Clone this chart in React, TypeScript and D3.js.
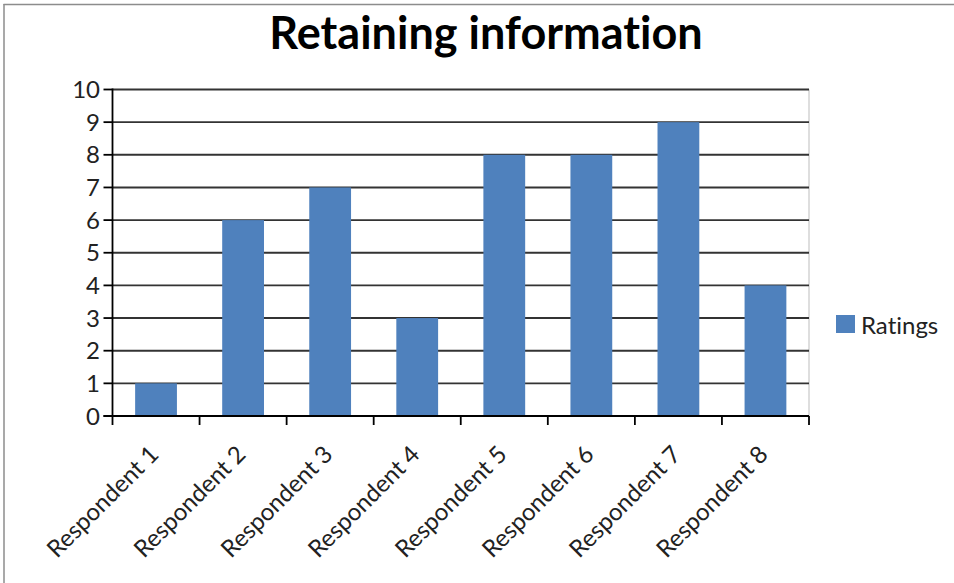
import React from "react";
import * as d3 from "d3";

const categories = [
  "Respondent 1",
  "Respondent 2",
  "Respondent 3",
  "Respondent 4",
  "Respondent 5",
  "Respondent 6",
  "Respondent 7",
  "Respondent 8",
];
const ratings = [1, 6, 7, 3, 8, 8, 9, 4];
const yTicks = [0, 1, 2, 3, 4, 5, 6, 7, 8, 9, 10];
const seriesName = "Ratings";
const title = "Retaining information";

const W = 954;
const H = 583;
const FONT = "Lato, 'Open Sans', sans-serif";

export default function App() {
  const left = 112.5;
  const right = 809;
  const top = 89.5;
  const bottom = 416;

  const x = d3
    .scaleBand<string>()
    .domain(categories)
    .range([left, right])
    .paddingInner(0.52)
    .paddingOuter(0.26);
  const y = d3.scaleLinear().domain([0, 10]).range([bottom, top]);
  const step = (right - left) / categories.length;

  return (
    <svg
      width={W}
      height={H}
      style={{ position: "absolute", left: 0, top: 0, background: "#fff", fontVariantLigatures: "none" }}
      fontFamily={FONT}
    >
      {/* chart frame */}
      <line x1={3.5} y1={4.5} x2={W} y2={4.5} stroke="#8c8c8c" strokeWidth={1.5} />
      <line x1={4} y1={4} x2={4} y2={H} stroke="#8c8c8c" strokeWidth={1.5} />

      <text
        x={486}
        y={49}
        textAnchor="middle"
        fontSize={45}
        fontWeight={700}
        fill="#000"
      >
        {title}
      </text>

      {/* right edge of plot area */}
      <line x1={right} y1={top} x2={right} y2={bottom} stroke="#bdbdbd" strokeWidth={1} />

      {/* gridlines */}
      {yTicks.slice(1).map((t) => (
        <line
          key={t}
          x1={left}
          x2={right}
          y1={y(t)}
          y2={y(t)}
          stroke="#333"
          strokeWidth={1.9}
        />
      ))}

      {/* bars */}
      {categories.map((c, i) => (
        <rect
          key={c}
          x={x(c)}
          y={y(ratings[i])}
          width={x.bandwidth()}
          height={bottom - y(ratings[i])}
          fill="#4f81bd"
        />
      ))}

      {/* y axis */}
      <line x1={left} y1={top - 1} x2={left} y2={bottom + 1} stroke="#000" strokeWidth={1.8} />
      {yTicks.map((t) => (
        <g key={t}>
          <line x1={left - 9} x2={left} y1={y(t)} y2={y(t)} stroke="#000" strokeWidth={1.8} />
          <text
            x={100}
            y={y(t)}
            dy="0.36em"
            textAnchor="end"
            fontSize={24}
            fill="#222"
          >
            {t}
          </text>
        </g>
      ))}

      {/* x axis */}
      <line x1={left - 9} x2={right} y1={bottom} y2={bottom} stroke="#000" strokeWidth={1.8} />
      {d3.range(categories.length + 1).map((i) => (
        <line
          key={i}
          x1={left + i * step}
          x2={left + i * step}
          y1={bottom}
          y2={bottom + 9}
          stroke="#000"
          strokeWidth={1.8}
        />
      ))}
      {categories.map((c) => {
        const cx = (x(c) ?? 0) + x.bandwidth() / 2 + 4;
        const cy = bottom + 40;
        return (
          <text
            key={c}
            x={cx}
            y={cy}
            textAnchor="end"
            fontSize={24}
            fill="#222"
            transform={`rotate(-45 ${cx} ${cy})`}
          >
            {c}
          </text>
        );
      })}

      {/* legend */}
      <rect x={836} y={315} width={19} height={18} fill="#4f81bd" />
      <text x={861} y={334} fontSize={24} fill="#222">
        {seriesName}
      </text>
    </svg>
  );
}
